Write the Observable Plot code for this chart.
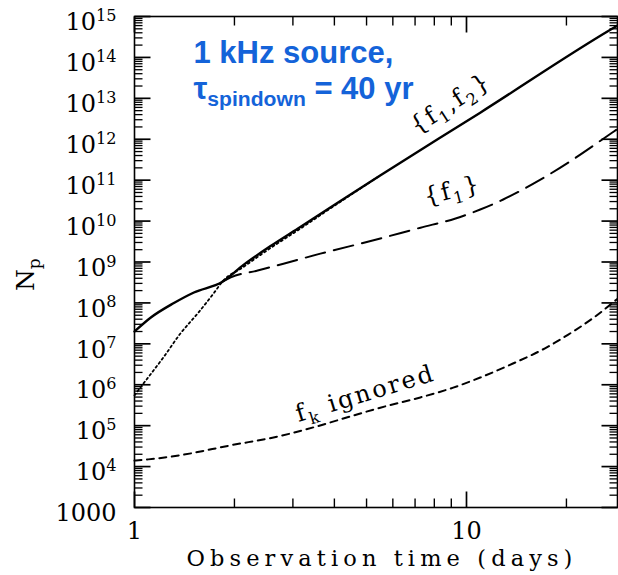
<!DOCTYPE html>
<html>
<head>
<meta charset="utf-8">
<script src="https://cdn.jsdelivr.net/npm/d3@7"></script>
<script src="https://cdn.jsdelivr.net/npm/@observablehq/plot@0.6"></script>
<style>
  html, body { margin: 0; padding: 0; background: #fff; }
  #chart svg { display: block; }
</style>
</head>
<body>
<div id="chart"></div>
<script>
// ---- data ----
const solidDays = [1.00, 1.12, 1.31, 1.51, 1.84, 2.13, 2.57, 3.10, 3.89, 5.51, 11.0, 27.2, 28.5];
const solidNp   = [2.0e7, 4.4e7, 9.8e7, 1.8e8, 3.3e8, 8.5e8, 2.45e9, 6.5e9, 2.14e10, 1.32e11, 4.47e12, 4.8e14, 6.0e14];

const dottedDays = [1.00, 1.064, 1.223, 1.376, 1.549, 1.73, 1.84, 2.13, 2.57, 3.10, 3.89, 5.51];
const dottedNp   = [5.5e5, 1.07e6, 4.7e6, 1.8e7, 5.5e7, 1.7e8, 3.3e8, 7.6e8, 2.2e9, 5.9e9, 2.04e10, 1.32e11];

const f1Days = [1.84, 1.95, 2.35, 2.81, 3.63, 5.25, 7.27, 9.27, 11.0, 12.9, 16.35, 20.5, 27.5, 28.5];
const f1Np   = [3.3e8, 4.2e8, 6.2e8, 9.1e8, 1.6e9, 3.4e9, 6.9e9, 1.16e10, 1.92e10, 3.37e10, 9.3e10, 2.87e11, 1.46e12, 1.78e12];

const fkDays = [1.00, 1.10, 1.376, 1.946, 2.75, 3.46, 4.38, 5.50, 7.26, 9.12, 11.0, 13.8, 17.5, 20.2, 24.0, 28.5];
const fkNp   = [1.4e4, 1.5e4, 1.9e4, 3.3e4, 5.6e4, 9.1e4, 1.6e5, 2.75e5, 4.9e5, 8.5e5, 1.5e6, 3.3e6, 8.3e6, 1.66e7, 4.2e7, 1.26e8];

const curveLabels = ["{f_[1],f_[2]}", "{f_[1]}", "f_[k] ignored"];
const curveLabelDays = [8.95, 9.07, 4.96];
const curveLabelNp = [7.5e12, 5.6e10, 6.1e5];
const curveLabelAngles = [-33, -14, -17];

const yTickValues = [1e3, 1e4, 1e5, 1e6, 1e7, 1e8, 1e9, 1e10, 1e11, 1e12, 1e13, 1e14, 1e15];
const yTickLabels = ["1000", "10^[4]", "10^[5]", "10^[6]", "10^[7]", "10^[8]", "10^[9]", "10^[10]", "10^[11]", "10^[12]", "10^[13]", "10^[14]", "10^[15]"];
const xTickValues = [1, 10];
const xTickLabels = ["1", "10"];
const xMinorValues = [2, 3, 4, 5, 6, 7, 8, 9, 20];

const xLabel = "Observation time (days)";
const yLabel = "N_[p]";
const noteLine1 = "1 kHz source,";
const noteLine2 = "τ_[spindown] = 40 yr";

// ---- tables ----
const rows = (xs, ys) => xs.map((d, i) => ({days: d, np: ys[i]}));
const solid = rows(solidDays, solidNp);
const dotted = rows(dottedDays, dottedNp);
const f1 = rows(f1Days, f1Np);
const fk = rows(fkDays, fkNp);
const labelRows = curveLabels.map((t, i) => ({label: t, days: curveLabelDays[i], np: curveLabelNp[i], angle: curveLabelAngles[i]}));
const yTickRows = yTickValues.map((v, i) => ({value: v, label: yTickLabels[i]}));
const xTickRows = xTickValues.map((v, i) => ({value: v, label: xTickLabels[i]}));
const yMinorValues = [];
for (let e = 3; e < 15; e++) for (let m = 2; m <= 9; m++) yMinorValues.push(m * 10 ** e);

const serif = "DejaVu Serif";
const sans = "Liberation Sans, Arial, sans-serif";
const blue = "#1463d9";

// tick-mark symbols: a short line pointing into the frame
const tickSym = (dx, dy) => ({draw(ctx) { ctx.moveTo(0, 0); ctx.lineTo(dx, dy); }});
const tickOpts = (w) => ({fill: "none", stroke: "black", strokeWidth: w, r: 1});

const chart = Plot.plot({
  width: 618,
  height: 575,
  marginLeft: 134,
  marginRight: 1,
  marginTop: 16,
  marginBottom: 68,
  x: {type: "log", domain: [1, 28.5], axis: null},
  y: {type: "log", domain: [1e3, 1e15], axis: null},
  marks: [
    // inward ticks on all four sides
    Plot.dot(yTickValues, {y: d => d, frameAnchor: "left", symbol: tickSym(16, 0), ...tickOpts(1.7)}),
    Plot.dot(yMinorValues, {y: d => d, frameAnchor: "left", symbol: tickSym(8, 0), ...tickOpts(1.3)}),
    Plot.dot(yTickValues, {y: d => d, frameAnchor: "right", symbol: tickSym(-16, 0), ...tickOpts(1.7)}),
    Plot.dot(yMinorValues, {y: d => d, frameAnchor: "right", symbol: tickSym(-8, 0), ...tickOpts(1.3)}),
    Plot.dot(xTickValues, {x: d => d, frameAnchor: "bottom", symbol: tickSym(0, -16), ...tickOpts(1.7)}),
    Plot.dot(xMinorValues, {x: d => d, frameAnchor: "bottom", symbol: tickSym(0, -9), ...tickOpts(1.4)}),
    Plot.dot(xTickValues, {x: d => d, frameAnchor: "top", symbol: tickSym(0, 16), ...tickOpts(1.7)}),
    Plot.dot(xMinorValues, {x: d => d, frameAnchor: "top", symbol: tickSym(0, 9), ...tickOpts(1.4)}),
    Plot.frame({stroke: "black", strokeWidth: 1.6}),

    // curves
    Plot.line(dotted, {x: "days", y: "np", stroke: "black", strokeWidth: 1.8, strokeDasharray: "2,3", curve: "monotone-x"}),
    Plot.line(f1, {x: "days", y: "np", stroke: "black", strokeWidth: 2, strokeDasharray: "20,9", curve: "monotone-x"}),
    Plot.line(fk, {x: "days", y: "np", stroke: "black", strokeWidth: 2, strokeDasharray: "7,5.5", curve: "monotone-x"}),
    Plot.line(solid, {x: "days", y: "np", stroke: "black", strokeWidth: 2.4, curve: "monotone-x"}),

    // curve labels
    Plot.text(labelRows, {x: "days", y: "np", text: "label", rotate: "angle", fontFamily: serif, fontSize: 24, fill: "black"}),

    // tick labels
    Plot.text(yTickRows, {y: "value", text: "label", frameAnchor: "left", textAnchor: "end", dx: -18, dy: 6, fontFamily: serif, fontSize: 24, fill: "black"}),
    Plot.text(xTickRows, {x: "value", text: "label", frameAnchor: "bottom", lineAnchor: "top", dy: 14, fontFamily: serif, fontSize: 24, fill: "black"}),

    // axis titles
    Plot.text([xLabel], {text: d => d, frameAnchor: "bottom", lineAnchor: "bottom", dx: 6, dy: 58, fontFamily: serif, fontSize: 22.5, fill: "black"}),
    Plot.text([yLabel], {text: d => d, frameAnchor: "left", rotate: -90, dx: -109, dy: 29, fontFamily: serif, fontSize: 25, fill: "black"}),

    // blue annotation
    Plot.text([noteLine1], {text: d => d, frameAnchor: "top-left", textAnchor: "start", lineAnchor: "bottom", dx: 59, dy: 46, fontFamily: sans, fontWeight: "bold", fontSize: 31, fill: blue}),
    Plot.text([noteLine2], {text: d => d, frameAnchor: "top-left", textAnchor: "start", lineAnchor: "bottom", dx: 59, dy: 82, fontFamily: sans, fontWeight: "bold", fontSize: 31, fill: blue})
  ]
});

document.getElementById("chart").appendChild(chart);

// letter spacing of the wide-set serif texts (style only)
const spacing = new Map([[xLabel, 5.1], [curveLabels[0], 2], [curveLabels[1], 2], [curveLabels[2], 2.4]]);

// turn _[..] / ^[..] markup into real sub/superscript tspans
function richify(svg) {
  const NS = "http://www.w3.org/2000/svg";
  svg.querySelectorAll("text").forEach(t => {
    const s = t.textContent;
    if (spacing.has(s)) t.setAttribute("letter-spacing", spacing.get(s));
    if (!/[_^]\[/.test(s)) return;
    const fs = parseFloat(getComputedStyle(t).fontSize) || 16;
    const parts = s.split(/([_^]\[[^\]]*\])/).filter(p => p.length);
    while (t.firstChild) t.removeChild(t.firstChild);
    let offset = 0;
    for (const p of parts) {
      const span = document.createElementNS(NS, "tspan");
      let shift = 0, content = p, size = null;
      if (p.startsWith("_[")) { shift = 0.25 * fs; content = p.slice(2, -1); size = 0.68 * fs; }
      else if (p.startsWith("^[")) { shift = -0.38 * fs; content = p.slice(2, -1); size = 0.67 * fs; }
      const d = shift - offset;
      if (d) span.setAttribute("dy", d.toFixed(2));
      offset = shift;
      if (size) span.setAttribute("font-size", size.toFixed(1));
      span.textContent = content;
      t.appendChild(span);
    }
  });
}
richify(chart);
</script>
</body>
</html>
